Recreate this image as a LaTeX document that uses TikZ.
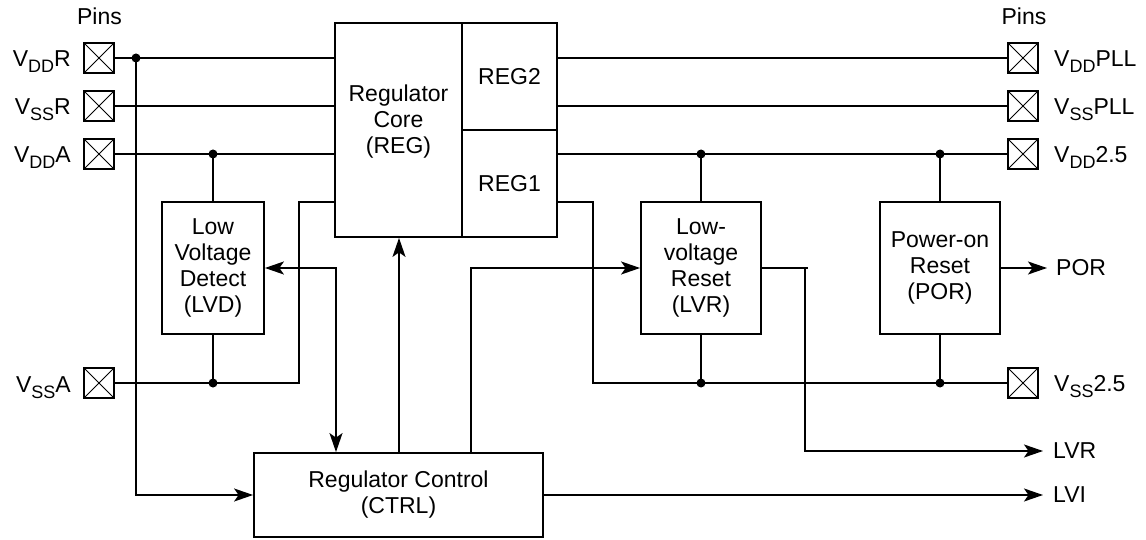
\documentclass[tikz,border=0pt]{standalone}
\usepackage{fontspec}
\setmainfont{Liberation Sans}
\usetikzlibrary{arrows.meta}
\newcommand{\sbs}[1]{\raisebox{-6pt}{\fontsize{18}{18}\selectfont #1}}
\begin{document}
\begin{tikzpicture}[x=1pt,y=-1pt,
  font=\fontsize{23}{26}\selectfont,
  wire/.style={line width=1.8pt},
  blk/.style={draw,line width=1.8pt,align=center,inner sep=0pt},
  pin/.style={draw,line width=1.6pt,minimum size=30pt,inner sep=0pt,
    path picture={\draw[line width=0.8pt]
      (path picture bounding box.north west)--(path picture bounding box.south east)
      (path picture bounding box.north east)--(path picture bounding box.south west);}},
  jdot/.style={circle,fill,inner sep=0pt,minimum size=9pt},
  arr/.style={-{Stealth[length=19pt,width=13pt,inset=4.5pt]}},
  darr/.style={{Stealth[length=19pt,width=13pt,inset=4.5pt]}-{Stealth[length=19pt,width=13pt,inset=4.5pt]}},
  lbl/.style={inner sep=0pt}]
\useasboundingbox (0,0) rectangle (1146,540);

% pins
\node[pin] (pvddr) at (99,58) {};
\node[pin] (pvssr) at (99,106) {};
\node[pin] (pvdda) at (99,154) {};
\node[pin] (pvssa) at (99,383) {};
\node[pin] (pvddpll) at (1023,58) {};
\node[pin] (pvsspll) at (1023,106) {};
\node[pin] (pvdd25) at (1023,154) {};
\node[pin] (pvss25) at (1023,383) {};

% pin labels
\node[lbl,anchor=base] (pinsl) at (99.5,25) {Pins};
\node[lbl,anchor=base] (pinsr) at (1024,25) {Pins};
\node[lbl,anchor=base east] (lvddr) at (71,67) {V\sbs{DD}R};
\node[lbl,anchor=base east] (lvssr) at (71,115) {V\sbs{SS}R};
\node[lbl,anchor=base east] (lvdda) at (71,163) {V\sbs{DD}A};
\node[lbl,anchor=base east] (lvssa) at (71,392) {V\sbs{SS}A};
\node[lbl,anchor=base west] (lvddpll) at (1054,66.5) {V\sbs{DD}PLL};
\node[lbl,anchor=base west] (lvsspll) at (1054,114.5) {V\sbs{SS}PLL};
\node[lbl,anchor=base west] (lvdd25) at (1054,162.5) {V\sbs{DD}2.5};
\node[lbl,anchor=base west] (lvss25) at (1054,391.5) {V\sbs{SS}2.5};

% blocks
\node[blk,minimum width=127pt,minimum height=214pt] (reg) at (398.5,130) {};
\node[lbl,align=center] (regtxt) at (398.5,122) {Regulator\\Core\\(REG)};
\node[blk,minimum width=95pt,minimum height=107pt] (reg2) at (509.5,76.5) {REG2};
\node[blk,minimum width=95pt,minimum height=107pt] (reg1) at (509.5,183.5) {REG1};
\node[blk,minimum width=102pt,minimum height=132pt] (lvd) at (213,268) {Low\\Voltage\\Detect\\(LVD)};
\node[blk,minimum width=120pt,minimum height=132pt] (lvr) at (701,268) {Low-\\voltage\\Reset\\(LVR)};
\node[blk,minimum width=120pt,minimum height=132pt] (por) at (940,268) {Power-on\\Reset\\(POR)};
\node[blk,minimum width=289pt,minimum height=84pt] (ctrl) at (398.5,495) {Regulator Control\\(CTRL)};

% junctions
\node[jdot] (jvddr) at (136,58) {};
\node[jdot] (jvdda) at (213,154) {};
\node[jdot] (jvssa) at (213,383) {};
\node[jdot] (jlvrt) at (701,154) {};
\node[jdot] (jport) at (940,154) {};
\node[jdot] (jlvrb) at (701,383) {};
\node[jdot] (jporb) at (940,383) {};

\coordinate (cvssa) at (299,202);
\coordinate (cvssab) at (299,383);
\coordinate (clvd) at (336,268);
\coordinate (creg) at (399,268);
\coordinate (clvr) at (471,268);
\coordinate (creg1) at (593,202);
\coordinate (creg1b) at (593,383);
\coordinate (clvro) at (805,268);
\coordinate (clvrend) at (808,268);
\coordinate (clvrdn) at (805,451);

% output labels
\node[lbl,anchor=west] (olvr) at (1053,451) {LVR};
\node[lbl,anchor=west] (olvi) at (1053,495) {LVI};
\node[lbl,anchor=west] (opor) at (1056,268) {POR};

% left wiring
\draw[wire] (pvddr.east) -- (pvddr.east -| reg.west);
\draw[wire,arr] (jvddr.center) -- (jvddr.center |- ctrl.west) -- (ctrl.west);
\draw[wire] (pvssr.east) -- (pvssr.east -| reg.west);
\draw[wire] (pvdda.east) -- (pvdda.east -| reg.west);
\draw[wire] (jvdda.center) -- (lvd.north);
\draw[wire] (reg.west |- cvssa) -- (cvssa) -- (cvssab) -- (pvssa.east);
\draw[wire] (lvd.south) -- (jvssa.center);
\draw[wire,darr] (lvd.east |- clvd) -- (clvd) -- (clvd |- ctrl.north);
\draw[wire,arr] (creg |- ctrl.north) -- (creg |- reg.south);
\draw[wire,arr] (clvr |- ctrl.north) -- (clvr) -- (lvr.west);

% right wiring
\draw[wire] (reg2.east |- pvddpll.west) -- (pvddpll.west);
\draw[wire] (reg2.east |- pvsspll.west) -- (pvsspll.west);
\draw[wire] (reg1.east |- pvdd25.west) -- (pvdd25.west);
\draw[wire] (jlvrt.center) -- (lvr.north);
\draw[wire] (jport.center) -- (por.north);
\draw[wire] (reg1.east |- creg1) -- (creg1) -- (creg1b) -- (pvss25.west);
\draw[wire] (lvr.south) -- (jlvrb.center);
\draw[wire] (por.south) -- (jporb.center);
\draw[wire] (lvr.east) -- (clvrend);
\draw[wire,arr] (clvro) -- (clvrdn) -- ([xshift=-10pt]olvr.west);
\draw[wire,arr] (por.east) -- ([xshift=-9pt]opor.west);
\draw[wire,arr] (ctrl.east) -- ([xshift=-10pt]olvi.west);
\end{tikzpicture}
\end{document}
